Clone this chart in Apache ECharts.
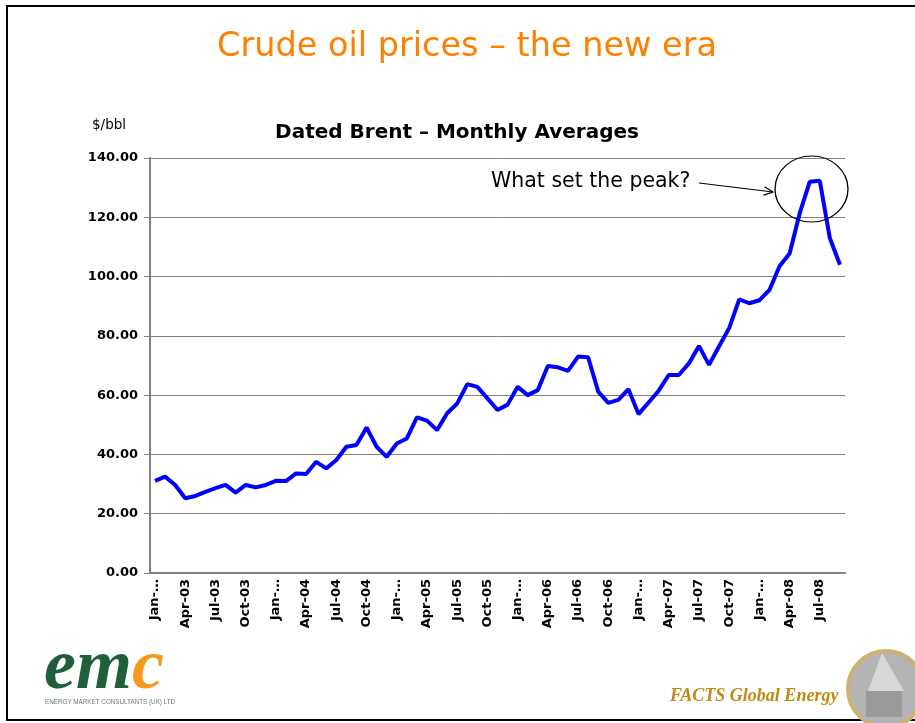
<!DOCTYPE html>
<html>
<head>
<meta charset="utf-8">
<script src="https://cdn.jsdelivr.net/npm/echarts@6/dist/echarts.min.js"></script>
<style>
  html, body { margin: 0; padding: 0; background: #fff; }
  #main { width: 915px; height: 723px; }
</style>
</head>
<body>
<div id="main"></div>
<script type="text/javascript">
// months, Jan-03 .. Sep-08
var months = [
  'Jan-03','Feb-03','Mar-03','Apr-03','May-03','Jun-03','Jul-03','Aug-03','Sep-03','Oct-03','Nov-03','Dec-03',
  'Jan-04','Feb-04','Mar-04','Apr-04','May-04','Jun-04','Jul-04','Aug-04','Sep-04','Oct-04','Nov-04','Dec-04',
  'Jan-05','Feb-05','Mar-05','Apr-05','May-05','Jun-05','Jul-05','Aug-05','Sep-05','Oct-05','Nov-05','Dec-05',
  'Jan-06','Feb-06','Mar-06','Apr-06','May-06','Jun-06','Jul-06','Aug-06','Sep-06','Oct-06','Nov-06','Dec-06',
  'Jan-07','Feb-07','Mar-07','Apr-07','May-07','Jun-07','Jul-07','Aug-07','Sep-07','Oct-07','Nov-07','Dec-07',
  'Jan-08','Feb-08','Mar-08','Apr-08','May-08','Jun-08','Jul-08','Aug-08','Sep-08'
];
// dated brent, $/bbl (monthly averages)
var brent = [
  31.1, 32.5, 29.7, 25.2, 26.0, 27.4, 28.6, 29.7, 27.1, 29.7, 28.9, 29.7,
  31.1, 31.0, 33.6, 33.4, 37.5, 35.3, 38.1, 42.6, 43.2, 49.1, 42.6, 39.2,
  43.7, 45.4, 52.5, 51.4, 48.2, 53.9, 57.2, 63.7, 62.8, 58.9, 55.0, 56.8,
  62.8, 60.0, 61.7, 69.8, 69.4, 68.2, 73.0, 72.8, 61.2, 57.4, 58.4, 62.0,
  53.6, 57.5, 61.5, 66.8, 66.8, 70.7, 76.6, 70.2, 76.5, 82.6, 92.3, 91.0,
  92.0, 95.5, 103.5, 107.8, 121.3, 132.0, 132.3, 112.9, 104.0
];
var yTicks = [0, 20, 40, 60, 80, 100, 120, 140];

var wide = 'DejaVu Sans, Verdana, sans-serif';
var myChart = echarts.init(document.getElementById('main'));

var option = {
  backgroundColor: '#fff',
  animation: false,
  textStyle: { fontFamily: wide },
  title: [
    {
      text: 'Crude oil prices \u2013 the new era',
      left: 462, top: 25, textAlign: 'center',
      textStyle: { color: '#FF8000', fontSize: 33.5, fontWeight: 'normal', fontFamily: wide }
    },
    {
      text: 'Dated Brent \u2013 Monthly Averages',
      left: 452, top: 118, textAlign: 'center',
      textStyle: { color: '#000', fontSize: 20, fontWeight: 'bold', fontFamily: wide }
    }
  ],
  grid: { left: 150, right: 70, top: 158, bottom: 150 },
  xAxis: {
    type: 'category',
    data: months,
    boundaryGap: true,
    axisLine: { lineStyle: { color: '#808080', width: 2 } },
    axisTick: { interval: 2, alignWithLabel: true, length: 5, lineStyle: { color: '#808080', width: 2 } },
    axisLabel: {
      interval: 2, rotate: 90, margin: 6,
      color: '#000', fontSize: 13, fontWeight: 'bold', fontFamily: wide,
      formatter: function (v) { return v.indexOf('Jan') === 0 ? 'Jan-\u2026' : v; }
    }
  },
  yAxis: {
    type: 'value',
    min: yTicks[0], max: yTicks[yTicks.length - 1], interval: 20,
    axisLine: { show: true, lineStyle: { color: '#808080', width: 2 } },
    axisTick: { show: true, length: 6, lineStyle: { color: '#808080' } },
    splitLine: { lineStyle: { color: '#808080', width: 1 } },
    axisLabel: {
      color: '#000', fontSize: 13, fontWeight: 'bold', margin: 12, fontFamily: wide,
      formatter: function (v) { return v.toFixed(2); }
    }
  },
  series: [{
    name: 'Dated Brent',
    type: 'line',
    data: brent,
    symbol: 'none',
    lineStyle: { color: '#0000FF', width: 4 }
  }],
  graphic: [
    // slide frame
    { type: 'polyline', shape: { points: [[915, 6], [7, 6], [7, 720], [915, 720]] },
      style: { stroke: '#000', lineWidth: 2, fill: null } },
    { type: 'text', left: 92, top: 118, style: { text: '$/bbl', fill: '#000', font: '13.5px DejaVu Sans, Verdana' } },
    // annotation
    { type: 'text', left: 491, top: 171, style: { text: 'What set the peak?', fill: '#000', font: '20.5px DejaVu Sans, Verdana' } },
    { type: 'line', shape: { x1: 699, y1: 183, x2: 773, y2: 192 }, style: { stroke: '#000', lineWidth: 1.2 } },
    { type: 'polyline', shape: { points: [[764.5, 186.7], [773, 192], [763.5, 195.1]] },
      style: { stroke: '#000', lineWidth: 1.2, fill: null } },
    { type: 'circle', x: 811.5, y: 189, scaleX: 1.106, shape: { cx: 0, cy: 0, r: 33 },
      style: { stroke: '#000', lineWidth: 1.2, fill: null }, z: 100 },
    // emc logo
    { type: 'text', left: 44, top: 633, style: {
        text: '{a|em}{b|c}',
        rich: {
          a: { fill: '#1F5F3A', font: 'italic bold 72px Liberation Serif, Times New Roman, serif' },
          b: { fill: '#F59A1B', font: 'italic bold 72px Liberation Serif, Times New Roman, serif' }
        } } },
    { type: 'text', left: 45, top: 699, style: { text: 'ENERGY MARKET CONSULTANTS (UK) LTD', fill: '#6A7A70', font: '6.3px Liberation Sans, Arial' } },
    // FACTS logo
    { type: 'text', left: 670, top: 687, style: { text: 'FACTS Global Energy', fill: '#C08A14', font: 'italic bold 18px Liberation Serif, Times New Roman, serif' } },
    { type: 'circle', shape: { cx: 886, cy: 689, r: 38 }, style: { fill: '#B4B4B4', stroke: '#CBB272', lineWidth: 4 } },
    { type: 'polygon', shape: { points: [[882, 653], [868, 691], [904, 691]] }, style: { fill: '#D8D8D8' } },
    { type: 'rect', shape: { x: 866, y: 691, width: 36, height: 26 }, style: { fill: '#9A9A9A' } }
  ]
};

myChart.setOption(option);
</script>
</body>
</html>
